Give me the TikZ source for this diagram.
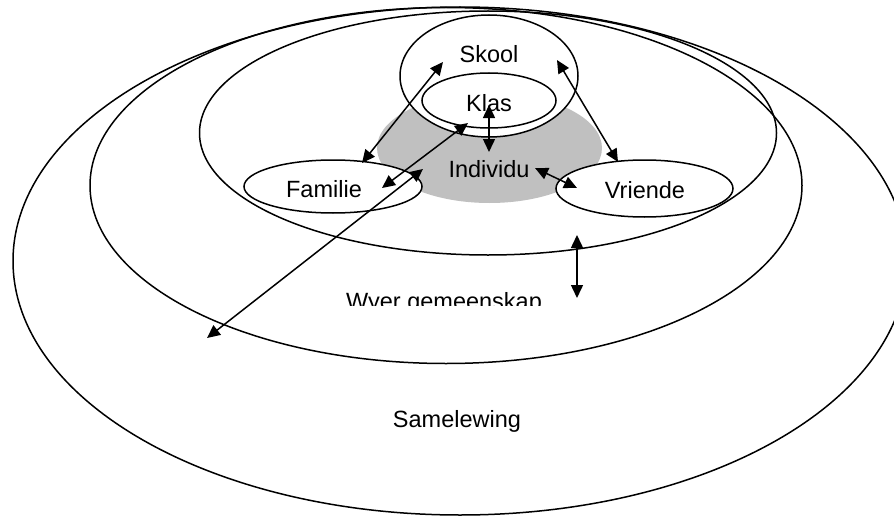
\documentclass[tikz,border=0pt]{standalone}
\usepackage{fontspec}
\setmainfont{Liberation Sans}
\usetikzlibrary{shapes.geometric,arrows.meta}
\definecolor{indgray}{RGB}{192,192,192}
\begin{document}
\begin{tikzpicture}[x=1pt,y=-1pt,
  ell/.style={ellipse, draw=black, line width=1.5pt, inner sep=0pt},
  lbl/.style={font=\fontsize{23.5}{28}\selectfont, inner sep=0pt, anchor=base},
  dbl/.style={line width=1.5pt, {Triangle[length=13pt,width=12pt]}-{Triangle[length=13pt,width=12pt]}}
]
\useasboundingbox[fill=white] (0,0) rectangle (894,519);
% large rings
\node[ell, minimum width=894pt, minimum height=508pt] (samelewing) at (460,261) {};
\node[ell, minimum width=712pt, minimum height=356pt] (wyer) at (446,185.5) {};
\node[ell, minimum width=577pt, minimum height=244pt] (kring) at (488,133) {};
% individual
\node[ellipse, inner sep=0pt, fill=indgray, minimum width=225pt, minimum height=110pt] (individu) at (489.5,148) {};
% inner circles
\node[ell, fill=white, minimum width=178pt, minimum height=122pt] (skool) at (489,76) {};
\node[ell, fill=white, minimum width=134pt, minimum height=55pt] (klas) at (489,100.5) {};
\node[ell, fill=white, minimum width=178pt, minimum height=53pt] (familie) at (333,186.5) {};
\node[ell, fill=white, minimum width=177pt, minimum height=57pt] (vriende) at (644.5,188.5) {};
% labels
\node[lbl] (tskool) at (489,63) {Skool};
\node[lbl] (tklas) at (489,111) {Klas};
\node[lbl] (tind) at (489,177) {Individu};
\node[lbl] (tfam) at (324,197) {Familie};
\node[lbl] (tvri) at (645,198) {Vriende};
\node[lbl] (tsam) at (457,427) {Samelewing};
\begin{scope}
  \clip (330,280) rectangle (560,305);
  \node[lbl] (twyer) at (444,309) {Wyer gemeenskap};
\end{scope}
% arrow end points
\coordinate (sf1) at (443,62);  \coordinate (sf2) at (362,163);
\coordinate (sv1) at (557,60);  \coordinate (sv2) at (618,162);
\coordinate (ki1) at (489,105); \coordinate (ki2) at (489,152);
\coordinate (iv1) at (535,168); \coordinate (iv2) at (577,188);
\coordinate (kf1) at (468,123); \coordinate (kf2) at (382,188);
\coordinate (fs1) at (423,169); \coordinate (fs2) at (207,338);
\coordinate (ww1) at (577,235); \coordinate (ww2) at (577,298);
\draw[dbl] (sf1) -- (sf2);
\draw[dbl] (sv1) -- (sv2);
\draw[dbl] (ki1) -- (ki2);
\draw[dbl] (iv1) -- (iv2);
\draw[dbl] (kf1) -- (kf2);
\draw[dbl] (fs1) -- (fs2);
\draw[dbl] (ww1) -- (ww2);
\end{tikzpicture}
\end{document}
